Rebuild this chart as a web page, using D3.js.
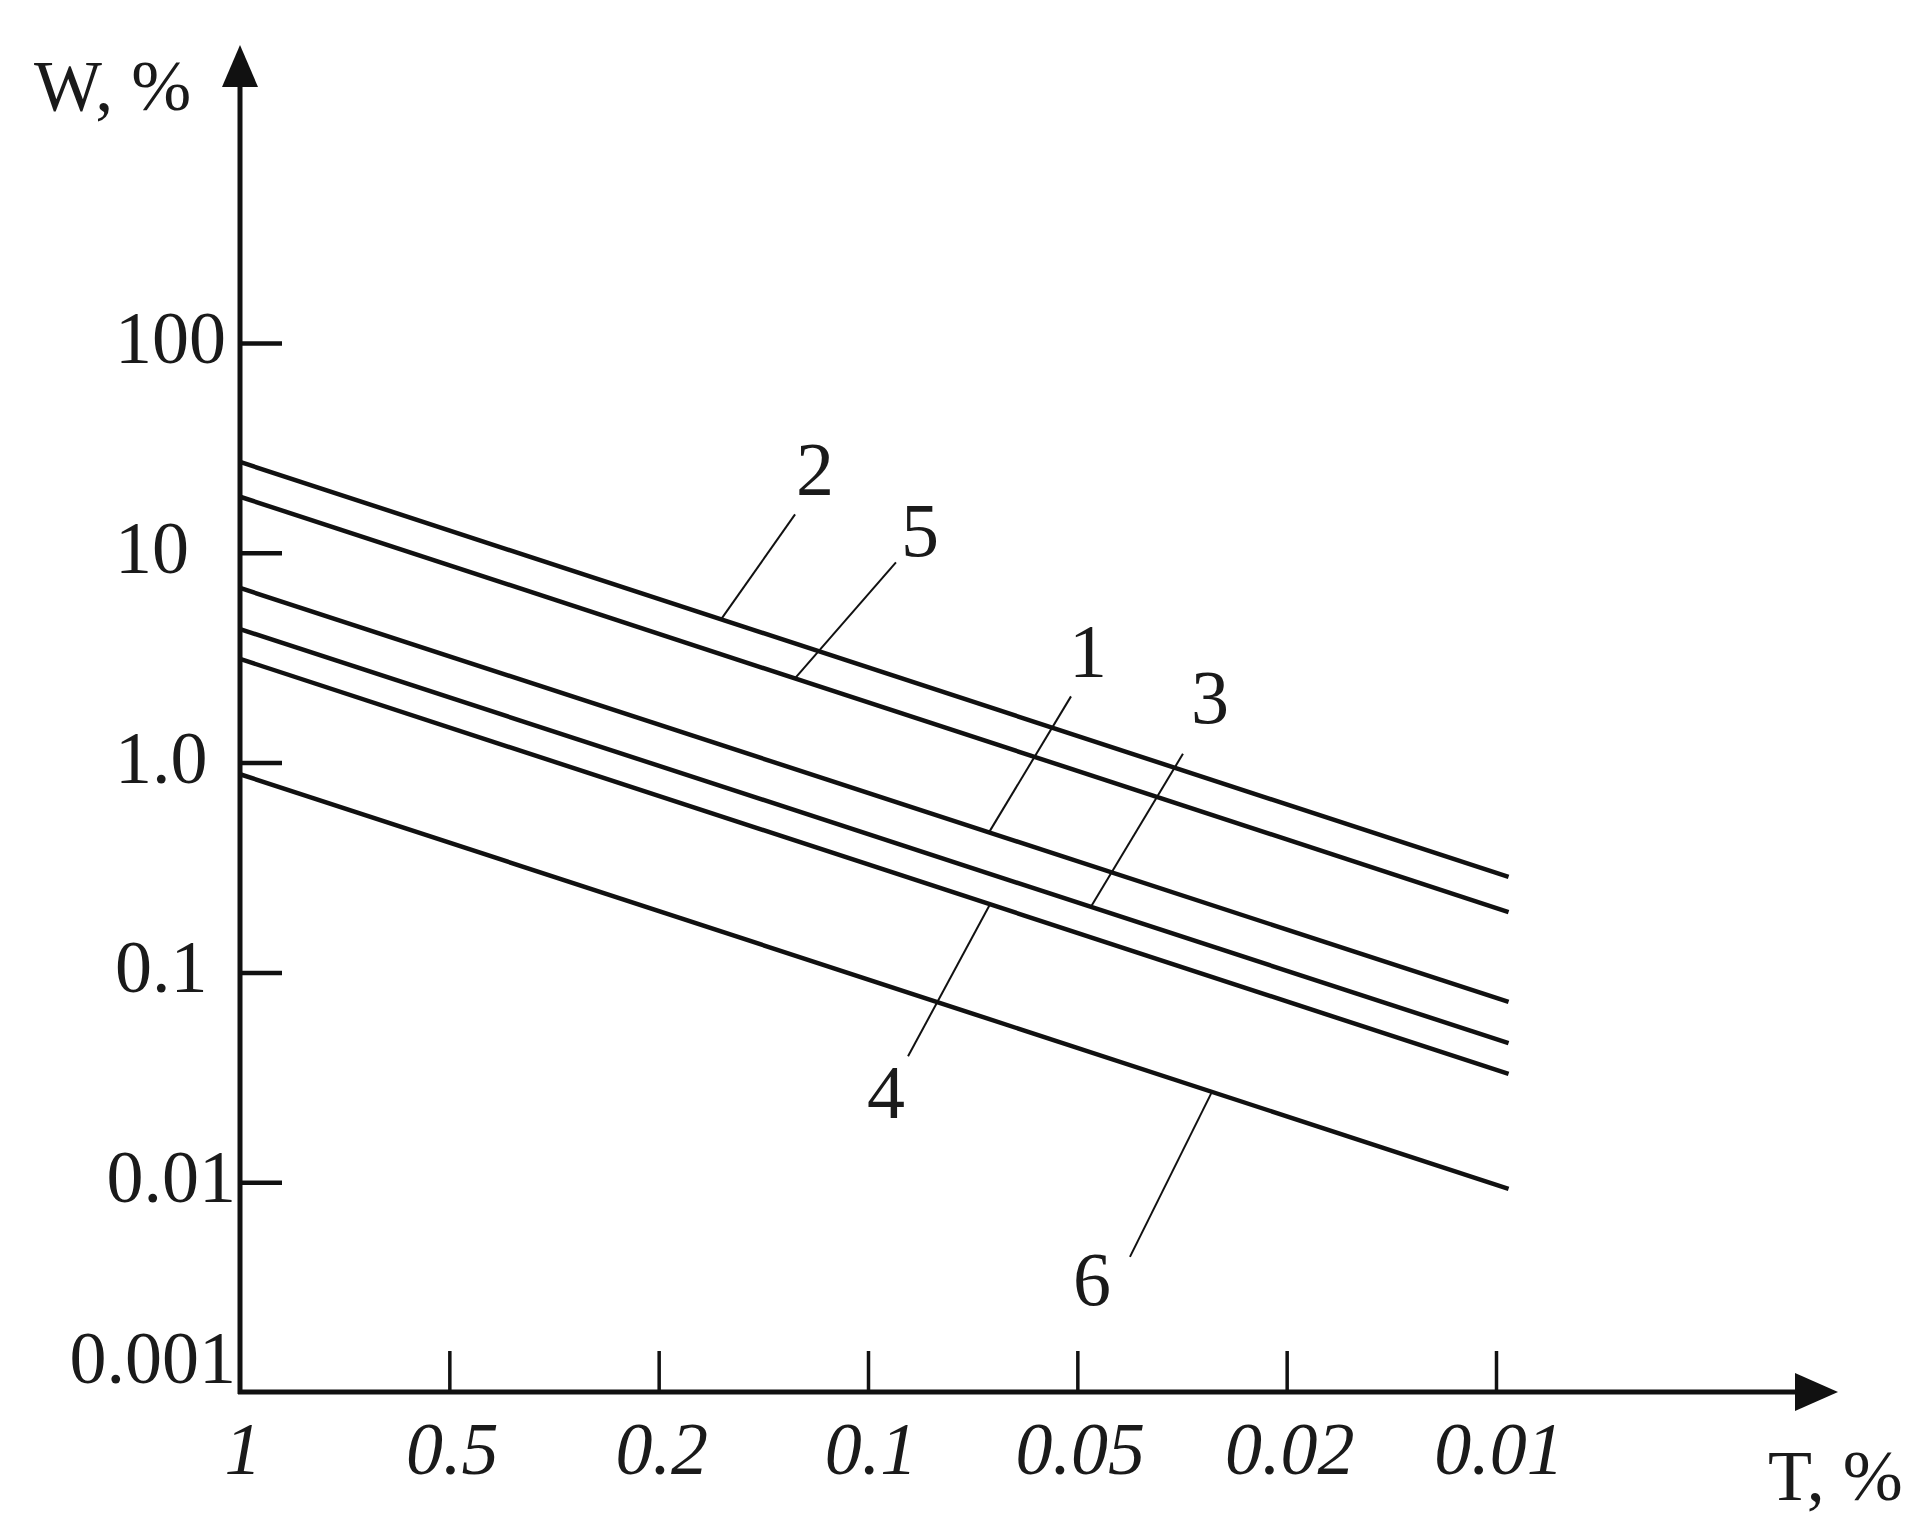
<!DOCTYPE html>
<html>
<head>
<meta charset="utf-8">
<script src="https://cdn.jsdelivr.net/npm/d3@7/dist/d3.min.js"></script>
<style>
  html, body { margin: 0; padding: 0; background: #fff; }
  svg { display: block; }
  text { font-family: "Liberation Serif", "Times New Roman", serif; fill: #1a1a1a; }
</style>
</head>
<body>
<svg id="chart" width="1928" height="1533"></svg>
<script>
// ---------------- data ----------------
const tTickLabels = ["1", "0.5", "0.2", "0.1", "0.05", "0.02", "0.01"];   // T, % (equally spaced)
const wTickValues = [100, 10, 1, 0.1, 0.01, 0.001];
const wTickLabels = ["100", "10", "1.0", "0.1", "0.01", "0.001"];
const curveIds = ["2", "5", "1", "3", "4", "6"];
const curveStartW = [27.1, 18.5, 6.8, 4.33, 3.12, 0.88];        // W at T = 1
const curveEndW = [0.285, 0.194, 0.0723, 0.046, 0.0328, 0.0093]; // W at right end (just past T = 0.01)
const curveSpan = [0, 6.06];                                      // T position (tick index units)

// ---------------- layout / style ----------------
const svg = d3.select("#chart");
const x0 = 240, yAxisBottom = 1392;
const x = d3.scaleLinear().domain([0, tTickLabels.length - 1]).range([240, 1496]);
const y = d3.scaleLog().domain([0.001, 100]).range([1392, 343]);

// annotation layout: where leader touches curve (tick-index units), leader end offset, label offset
const annot = {
  "2": { at: 2.298, lead: [74, -105], lab: [94, -124] },
  "5": { at: 2.651, lead: [101, -116], lab: [125, -122] },
  "1": { at: 3.578, lead: [82, -136], lab: [99, -155] },
  "3": { at: 4.065, lead: [92, -153], lab: [119, -184] },
  "4": { at: 3.583, lead: [-82, 152], lab: [-104, 214] },
  "6": { at: 4.643, lead: [-82, 165], lab: [-120, 213] }
};

// ---------------- curves ----------------
const curves = curveIds.map((id, i) => ({
  id,
  pts: [[curveSpan[0], curveStartW[i]], [curveSpan[1], curveEndW[i]]]
}));
const line = d3.line().x(d => x(d[0])).y(d => y(d[1]));

svg.append("g").selectAll("path").data(curves).join("path")
  .attr("d", d => line(d.pts))
  .attr("fill", "none").attr("stroke", "#111").attr("stroke-width", 4.5)
  .attr("stroke-linecap", "butt");

// value on curve at tick-index position t (log-linear along the straight segment)
function curveW(c, t) {
  const [a, b] = c.pts;
  const f = (t - a[0]) / (b[0] - a[0]);
  return Math.pow(10, Math.log10(a[1]) + f * (Math.log10(b[1]) - Math.log10(a[1])));
}

// leaders and labels
const ann = svg.append("g");
curves.forEach(c => {
  const a = annot[c.id];
  const px = x(a.at), py = y(curveW(c, a.at));
  ann.append("line")
    .attr("x1", px).attr("y1", py)
    .attr("x2", px + a.lead[0]).attr("y2", py + a.lead[1])
    .attr("stroke", "#111").attr("stroke-width", 2);
  ann.append("text")
    .attr("x", px + a.lab[0]).attr("y", py + a.lab[1])
    .attr("text-anchor", "middle")
    .attr("font-size", 76)
    .text(c.id);
});

// ---------------- axes ----------------
// Y ticks (inward)
const yAxis = d3.axisLeft(y).tickValues(wTickValues.slice(0, 5)).tickSize(-42).tickFormat("");
const gy = svg.append("g").attr("transform", `translate(${x0},0)`).call(yAxis);
gy.select(".domain").remove();
gy.selectAll(".tick line").attr("stroke", "#111").attr("stroke-width", 4.5);

// X ticks (inward / upward)
const xAxis = d3.axisBottom(x).tickValues(d3.range(1, tTickLabels.length)).tickSize(-41).tickFormat("");
const gx = svg.append("g").attr("transform", `translate(0,${yAxisBottom})`).call(xAxis);
gx.select(".domain").remove();
gx.selectAll(".tick line").attr("stroke", "#111").attr("stroke-width", 3.5);

// axis lines
svg.append("line").attr("x1", x0).attr("y1", yAxisBottom + 2).attr("x2", x0).attr("y2", 80)
  .attr("stroke", "#111").attr("stroke-width", 5);
svg.append("line").attr("x1", x0 - 2).attr("y1", yAxisBottom).attr("x2", 1800).attr("y2", yAxisBottom)
  .attr("stroke", "#111").attr("stroke-width", 5);
// arrows
svg.append("path").attr("d", `M${x0},45 L${x0 - 18},87 L${x0 + 18},87 Z`).attr("fill", "#111");
svg.append("path").attr("d", `M1838,${yAxisBottom} L1795,${yAxisBottom - 19} L1795,${yAxisBottom + 19} Z`).attr("fill", "#111");

// Y tick labels
svg.append("g").selectAll("text").data(wTickValues).join("text")
  .attr("x", (d, i) => wTickLabels[i].length >= 4 ? 236 : 115)
  .attr("y", (d, i) => y(d) + (i === wTickValues.length - 1 ? -9 : 20))
  .attr("text-anchor", (d, i) => wTickLabels[i].length >= 4 ? "end" : "start")
  .attr("font-size", 74)
  .text((d, i) => wTickLabels[i]);

// X tick labels
svg.append("g").selectAll("text").data(tTickLabels).join("text")
  .attr("x", (d, i) => x(i) + 3)
  .attr("y", 1474)
  .attr("text-anchor", "middle")
  .attr("font-style", "italic")
  .attr("font-size", 74)
  .text(d => d);

// axis titles
svg.append("text").attr("x", 34).attr("y", 110).attr("font-size", 72).text("W, %");
svg.append("text").attr("x", 1768).attr("y", 1500).attr("font-size", 72).text("T, %");
</script>
</body>
</html>
